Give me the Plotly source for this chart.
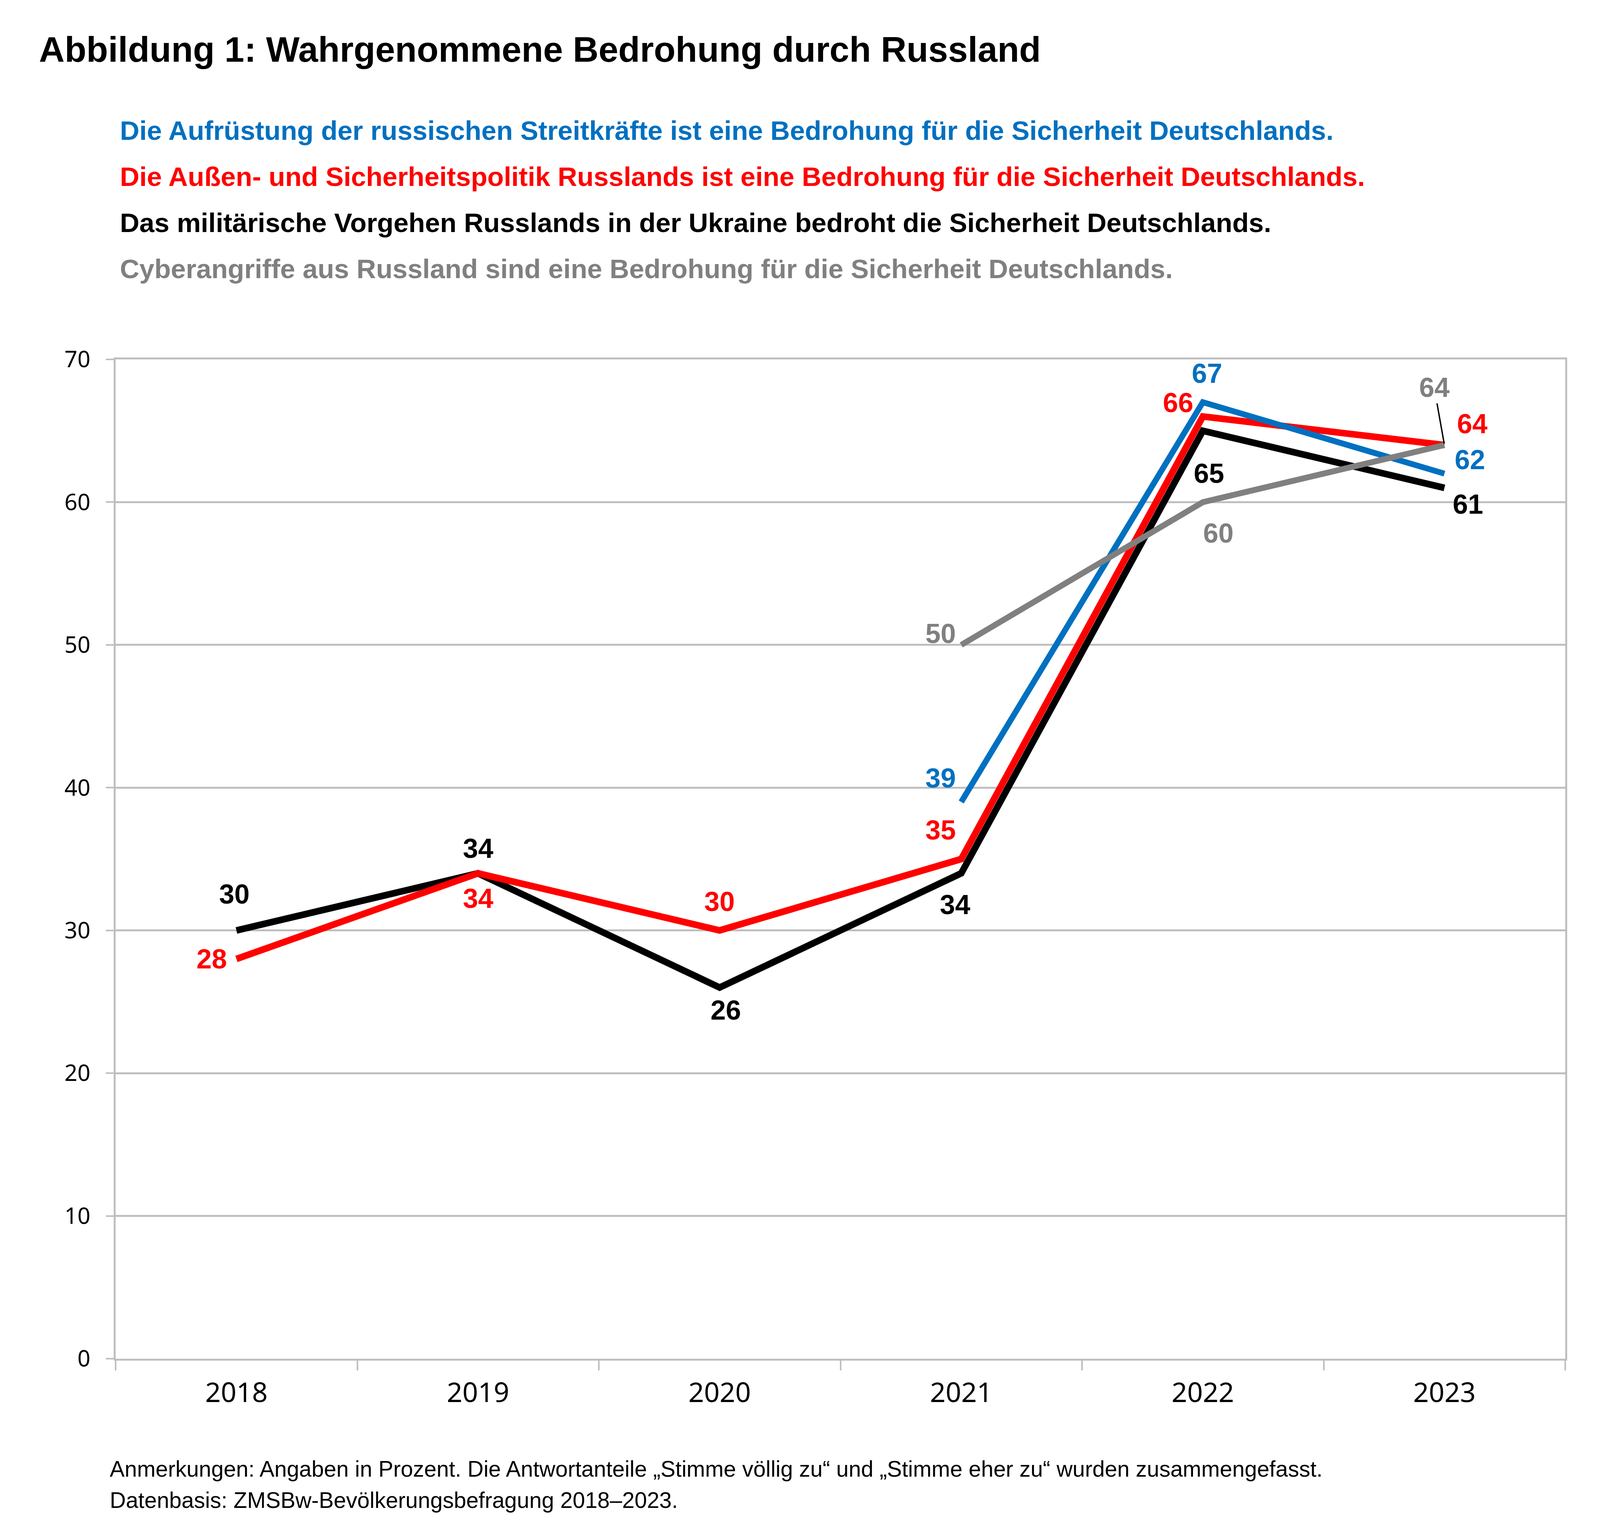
import plotly.graph_objects as go

# Daten (Zustimmung in Prozent)
years = ["2018", "2019", "2020", "2021", "2022", "2023"]
aufruestung = [None, None, None, 39, 67, 62]
politik = [28, 34, 30, 35, 66, 64]
ukraine = [30, 34, 26, 34, 65, 61]
cyber = [None, None, None, 50, 60, 64]

subtitles = [
    "Die Aufrüstung der russischen Streitkräfte ist eine Bedrohung für die Sicherheit Deutschlands.",
    "Die Außen- und Sicherheitspolitik Russlands ist eine Bedrohung für die Sicherheit Deutschlands.",
    "Das militärische Vorgehen Russlands in der Ukraine bedroht die Sicherheit Deutschlands.",
    "Cyberangriffe aus Russland sind eine Bedrohung für die Sicherheit Deutschlands.",
]
title = "Abbildung 1: Wahrgenommene Bedrohung durch Russland"
notes = [
    "Anmerkungen: Angaben in Prozent. Die Antwortanteile „Stimme völlig zu“ und „Stimme eher zu“ wurden zusammengefasst.",
    "Datenbasis: ZMSBw-Bevölkerungsbefragung 2018–2023.",
]

BLUE = "#0070C0"
RED = "#FF0000"
BLACK = "#000000"
GRAY = "#808080"
GRID = "#BFBFBF"

# Browserfenster ist effektiv 4096 breit
W, H = 4096, 3937
SX, SY = W / 1562, H / 1230   # Skalierung aus Vorlage-Koordinaten

# Reihenfolge = Zeichenreihenfolge (grau oben)
series = [
    ("ukraine", ukraine, BLACK, 17),
    ("politik", politik, RED, 17),
    ("aufruestung", aufruestung, BLUE, 15),
    ("cyber", cyber, GRAY, 15),
]

# Label-Versatz (Vorlage-Pixel, y nach oben positiv), pro Jahr
offsets = {
    "ukraine": [(-2, 29), (0, 20), (6, -18), (-6, -25), (6, -34), (23, -13)],
    "politik": [(-24, 0), (0, -20), (0, 23), (-20, 23), (-24, 11), (27, 17)],
    "aufruestung": [None, None, None, (-20, 19), (4, 23), (25, 11)],
    "cyber": [None, None, None, (-20, 9), (15, -25), None],
}

fig = go.Figure()
for name, vals, color, width in series:
    fig.add_trace(go.Scatter(
        x=years, y=vals, mode="lines", name=name,
        line=dict(color=color, width=width),
        connectgaps=False, showlegend=False,
    ))

annotations = []
for name, vals, color, width in series:
    for i, v in enumerate(vals):
        if v is None or offsets[name][i] is None:
            continue
        dx, dy = offsets[name][i]
        annotations.append(dict(
            x=i, y=v, text=str(v), showarrow=False,
            xshift=dx * SX, yshift=dy * SY,
            font=dict(family="Liberation Sans", size=70, color=color, weight="bold"),
        ))

# grau 64 (2023) mit Hinweislinie
annotations.append(dict(
    x=5, y=cyber[5], text=str(cyber[5]), showarrow=True,
    ax=-10 * SX, ay=-46 * SY, arrowhead=0, arrowwidth=3.5, arrowcolor="black",
    standoff=4,
    font=dict(family="Liberation Sans", size=70, color=GRAY, weight="bold"),
))

ml, mr, mt, mb = round(110 * SX), round(W - 1525 * SX), round(285 * SY), round(H - 1084 * SY)
plot_w, plot_h = W - ml - mr, H - mt - mb


def px_to_paper(xpx, ypx):
    return (xpx - ml) / plot_w, (H - mb - ypx) / plot_h


# Untertitel
sub_colors = [BLUE, RED, BLACK, GRAY]
for k, (txt, col) in enumerate(zip(subtitles, sub_colors)):
    px, py = px_to_paper(117 * SX - 10, 326 + k * 118)
    annotations.append(dict(
        xref="paper", yref="paper", x=px, y=py,
        xanchor="left", yanchor="middle", showarrow=False, text=txt,
        font=dict(family="Liberation Sans", size=69, color=col, weight="bold"),
    ))

# Anmerkungen
for k, txt in enumerate(notes):
    px, py = px_to_paper(108 * SX - 12, 3752 + k * 80)
    annotations.append(dict(
        xref="paper", yref="paper", x=px, y=py,
        xanchor="left", yanchor="middle", showarrow=False, text=txt,
        font=dict(family="Liberation Sans", size=57, color="black"),
    ))

fig.update_layout(
    width=W, height=H,
    margin=dict(l=ml, r=mr, t=mt, b=mb),
    paper_bgcolor="white", plot_bgcolor="white",
    title=dict(
        text=title, x=35 * SX / W, xanchor="left",
        y=1 - 118 / H, yanchor="middle",
        font=dict(family="Liberation Sans", size=91, color="black", weight="bold"),
    ),
    annotations=annotations,
    xaxis=dict(
        type="category", categoryorder="array", categoryarray=years,
        range=[-0.5, 5.5], tickson="boundaries",
        ticks="outside", ticklen=25, tickwidth=4, tickcolor=GRID,
        showgrid=False, showline=True, linecolor=GRID, linewidth=5, mirror=True,
        tickfont=dict(family="Noto Sans", size=70, color="black"),
        ticklabelstandoff=22,
    ),
    yaxis=dict(
        range=[0, 70], dtick=10, tick0=0,
        ticks="outside", ticklen=20, tickwidth=4, tickcolor=GRID,
        showgrid=True, gridcolor=GRID, gridwidth=5,
        showline=True, linecolor=GRID, linewidth=5, mirror=True,
        zeroline=False,
        tickfont=dict(family="Noto Sans", size=58, color="black"),
        ticklabelstandoff=28,
    ),
)

fig.write_html("out.html")
